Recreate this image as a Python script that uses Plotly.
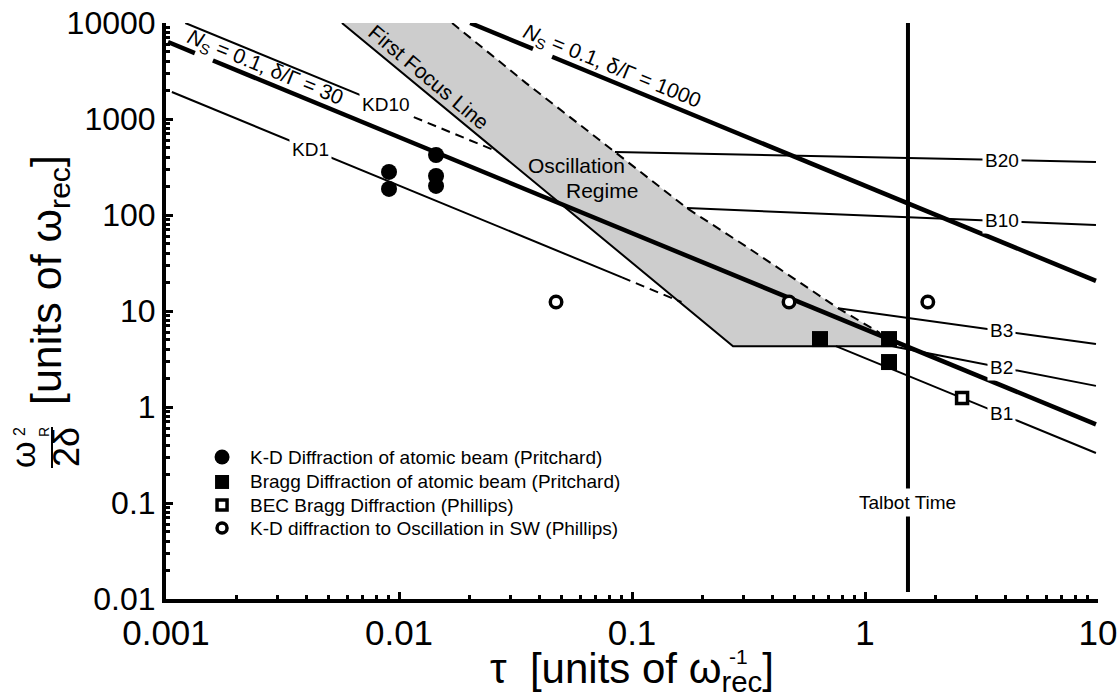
import math
import plotly.graph_objects as go

FONT = "Liberation Sans, Arial, Helvetica, sans-serif"

# ---------------- data ----------------
# measured points
kd_beam_x = [0.00906, 0.00906, 0.01442, 0.01442, 0.01442]
kd_beam_y = [281, 187, 422, 255, 201]
bragg_beam_x = [0.641, 1.268, 1.268]
bragg_beam_y = [5.1, 5.1, 2.94]
bec_bragg_x = [2.61]
bec_bragg_y = [1.24]
kd_sw_x = [0.0472, 0.472, 1.86]
kd_sw_y = [12.4, 12.4, 12.4]

# thick N_s = 0.1 lines (with a gap under the "N_S" label)
ns30_x = [0.00102, 0.00133, None, 0.00159, 9.8]
ns30_y = [6340, 4860, None, 4070, 0.66]
ns1000_x = [0.0202, 0.0376, None, 0.0454, 9.8]
ns1000_y = [10000, 5375, None, 4450, 20.6]

# Kapitza-Dirac lines
kd10_solid_x = [0.00121, 0.0088]
kd10_solid_y = [10000, 1376]
kd10_dash_x = [0.0088, 0.0264]
kd10_dash_y = [1376, 459]
kd1_solid_x = [0.00106, 0.0906]
kd1_solid_y = [1910, 22.4]
kd1_dash_x = [0.0906, 0.163]
kd1_dash_y = [22.4, 12.4]

# Bragg lines
b20_x = [0.0845, 9.8]
b20_y = [453, 357]
b10_x = [0.172, 9.8]
b10_y = [118, 78.7]
b3_x = [0.766, 9.8]
b3_y = [10.7, 4.53]
b2_x = [1.31, 9.8]
b2_y = [4.3, 1.66]
b1_x = [0.75, 9.8]
b1_y = [4.3, 0.332]

# first focus line and the lower edge of the oscillation regime
focus_x = [0.00569, 0.2714, 1.31]
focus_y = [10000, 4.3, 4.3]
# dashed upper boundary of the oscillation regime
osc_edge_x = [0.0169, 0.035, 0.0845, 0.172, 0.31, 0.766, 1.16]
osc_edge_y = [10000, 2380, 453, 118, 46.8, 10.7, 5.9]
# shaded region outline
region_x = [0.00569, 0.0169, 0.035, 0.0845, 0.172, 0.31, 0.766, 1.16, 1.31, 0.2714, 0.00569]
region_y = [10000, 10000, 2380, 453, 118, 46.8, 10.7, 5.9, 4.3, 4.3, 10000]

# Talbot time
talbot_x = [1.529, 1.529]
talbot_y = [10000, 0.0118]

# axis ticks
x_tickvals = [0.001, 0.01, 0.1, 1, 10]
x_ticktext = ["0.001", "0.01", "0.1", "1", "10"]
y_tickvals = [0.01, 0.1, 1, 10, 100, 1000, 10000]
y_ticktext = ["0.01", "0.1", "1", "10", "100", "1000", "10000"]

legend_names = [
    "K-D Diffraction of atomic beam (Pritchard)",
    "Bragg Diffraction of atomic beam (Pritchard)",
    "BEC Bragg Diffraction (Phillips)",
    "K-D diffraction to Oscillation in SW (Phillips)",
]

# label positions (data units)
line_labels = [
    ("KD10", 0.00879, 1432),
    ("KD1", 0.00415, 481),
    ("B20", 3.87, 374),
    ("B10", 3.87, 88.7),
    ("B3", 3.87, 6.34),
    ("B2", 3.87, 2.61),
    ("B1", 3.87, 0.866),
]

# legend block placement (data units of the plot)
legend_symbol_x = 0.00174
legend_text_x = 0.00225
legend_row_y = [0.301, 0.1656, 0.0953, 0.0549]

# ---------------- figure ----------------
fig = go.Figure()


def line(x, y, width, dash="solid"):
    fig.add_trace(go.Scatter(x=x, y=y, mode="lines", showlegend=False, hoverinfo="skip",
                             line=dict(color="black", width=width, dash=dash)))


# shaded oscillation regime
fig.add_trace(go.Scatter(x=region_x, y=region_y, mode="lines", fill="toself",
                         fillcolor="#cdcdcd", line=dict(width=0, color="rgba(0,0,0,0)"),
                         showlegend=False, hoverinfo="skip"))

DASH = "9px,6px"
line(focus_x, focus_y, 2)
line(osc_edge_x, osc_edge_y, 2, DASH)
line(kd10_solid_x, kd10_solid_y, 2)
line(kd10_dash_x, kd10_dash_y, 2, DASH)
line(kd1_solid_x, kd1_solid_y, 2)
line(kd1_dash_x, kd1_dash_y, 2, DASH)
for bx, by in [(b20_x, b20_y), (b10_x, b10_y), (b3_x, b3_y), (b2_x, b2_y), (b1_x, b1_y)]:
    line(bx, by, 2)
line(ns30_x, ns30_y, 4.5)
line(ns1000_x, ns1000_y, 4.5)
line(talbot_x, talbot_y, 4)

# measured points + legend symbols
styles = [
    dict(symbol="circle", size=16, color="black"),
    dict(symbol="square", size=16, color="black"),
    dict(symbol="square", size=11, color="white", line=dict(color="black", width=3.5)),
    dict(symbol="circle", size=11.5, color="white", line=dict(color="black", width=3.5)),
]
legend_styles = [
    dict(symbol="circle", size=15, color="black"),
    dict(symbol="square", size=14, color="black"),
    dict(symbol="square", size=10, color="white", line=dict(color="black", width=3.5)),
    dict(symbol="circle", size=10, color="white", line=dict(color="black", width=3.5)),
]
series = [(kd_beam_x, kd_beam_y), (bragg_beam_x, bragg_beam_y),
          (bec_bragg_x, bec_bragg_y), (kd_sw_x, kd_sw_y)]
for (sx, sy), st, name in zip(series, styles, legend_names):
    fig.add_trace(go.Scatter(x=sx, y=sy, mode="markers", name=name, marker=st,
                             showlegend=False))
for i, st in enumerate(legend_styles):
    fig.add_trace(go.Scatter(x=[legend_symbol_x], y=[legend_row_y[i]], mode="markers",
                             marker=st, showlegend=False, hoverinfo="skip"))

L = math.log10
ann = []
for name, ry in zip(legend_names, legend_row_y):
    ann.append(dict(x=L(legend_text_x), y=L(ry), xref="x", yref="y", text=name,
                    showarrow=False, xanchor="left", yanchor="middle",
                    font=dict(family=FONT, size=19, color="black")))
for txt, lx, ly in line_labels:
    ann.append(dict(x=L(lx), y=L(ly), xref="x", yref="y", text=txt, showarrow=False,
                    font=dict(family=FONT, size=19, color="black"), bgcolor="white", borderpad=2))
ann.append(dict(x=L(1.529), y=L(0.102), xref="x", yref="y", text="Talbot Time", showarrow=False,
                font=dict(family=FONT, size=19, color="black"), bgcolor="white", borderpad=3))
ann.append(dict(x=L(0.00266), y=L(3396), xref="x", yref="y", textangle=22.3,
                text="<i>N</i><sub>S</sub> = 0.1, δ/Γ = 30", showarrow=False,
                font=dict(family=FONT, size=21, color="black")))
ann.append(dict(x=L(0.0820), y=L(3483), xref="x", yref="y", textangle=22.1,
                text="<i>N</i><sub>S</sub> = 0.1, δ/Γ = 1000", showarrow=False,
                font=dict(family=FONT, size=21, color="black")))
ann.append(dict(x=L(0.01332), y=L(2739), xref="x", yref="y", textangle=40,
                text="First Focus Line", showarrow=False,
                font=dict(family=FONT, size=21, color="black")))
ann.append(dict(x=L(0.0575), y=L(324), xref="x", yref="y", text="Oscillation", showarrow=False,
                font=dict(family=FONT, size=21, color="black")))
ann.append(dict(x=L(0.0743), y=L(178), xref="x", yref="y", text="Regime", showarrow=False,
                font=dict(family=FONT, size=21, color="black")))

# axis titles (pixel positions converted to paper coordinates)
PL, PR, PT, PB = 166, 1098, 23, 599


def px(xp):
    return (xp - PL) / (PR - PL)


def py(yp):
    return (PB - yp) / (PB - PT)


def pann(xp, yp, text, size, angle=0, xa="center", ya="middle"):
    ann.append(dict(x=px(xp), y=py(yp), xref="paper", yref="paper", text=text,
                    textangle=angle, showarrow=False, xanchor=xa, yanchor=ya,
                    font=dict(family=FONT, size=size, color="black")))


pann(632, 700, "τ  [units of ω<sub>rec</sub>]", 42, ya="bottom")
pann(738, 656, "-1", 21)
pann(49, 280, "[units of ω<sub>rec</sub>]", 43, angle=-90)
pann(23, 455, "ω", 34, angle=-90)
pann(19, 432, "2", 16, angle=-90)
pann(44, 432, "R", 14, angle=-90)
pann(66, 447, "2δ", 36, angle=-90)

shapes = [dict(type="line", xref="paper", yref="paper", x0=px(52), x1=px(52),
               y0=py(427), y1=py(468), line=dict(color="black", width=2))]

minor_x = [m * 10 ** e for e in range(-3, 1) for m in range(2, 10)]
minor_y = [m * 10 ** e for e in range(-2, 4) for m in range(2, 10)]

fig.update_layout(
    width=1119, height=700,
    margin=dict(l=PL, r=1119 - PR, t=PT, b=700 - PB, autoexpand=False),
    paper_bgcolor="white", plot_bgcolor="white",
    font=dict(family=FONT, color="black"),
    annotations=ann, shapes=shapes, showlegend=False,
    xaxis=dict(type="log", range=[-3, 1], showgrid=False, zeroline=False, automargin=False,
               showline=True, linecolor="black", linewidth=4, mirror=False,
               tickmode="array", tickvals=x_tickvals, ticktext=x_ticktext,
               ticks="inside", ticklen=7, tickwidth=3, tickcolor="black",
               tickfont=dict(family=FONT, size=35, color="black"),
               minor=dict(tickmode="array", tickvals=minor_x, ticks="inside",
                          ticklen=4, tickwidth=3, tickcolor="black")),
    yaxis=dict(type="log", range=[-2, 4], showgrid=False, zeroline=False, automargin=False,
               showline=True, linecolor="black", linewidth=4, mirror=False,
               tickmode="array", tickvals=y_tickvals, ticktext=y_ticktext,
               ticks="inside", ticklen=7, tickwidth=3, tickcolor="black",
               tickfont=dict(family=FONT, size=32, color="black"),
               minor=dict(tickmode="array", tickvals=minor_y, ticks="inside",
                          ticklen=4, tickwidth=3, tickcolor="black")),
)

fig.write_html("out.html")
